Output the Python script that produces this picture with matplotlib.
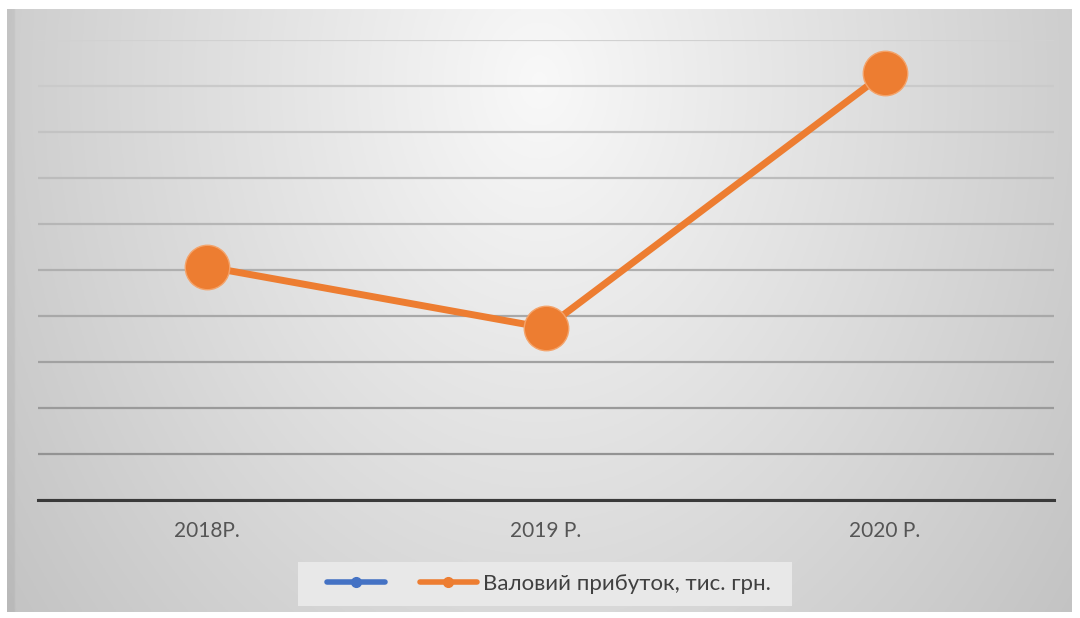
import numpy as np
import matplotlib.pyplot as plt
from matplotlib.lines import Line2D
from matplotlib.patches import Rectangle

# data
years = ["2018Р.", "2019 Р.", "2020 Р."]
profit = [5.07, 3.74, 9.28]
series_name = "Валовий прибуток, тис. грн."

W, H = 1080, 618
fig = plt.figure(figsize=(W / 100, H / 100), dpi=100)
fig.patch.set_facecolor("white")

# chart area background: radial grey gradient
bg = fig.add_axes([7 / W, 1 - 612 / H, (1072 - 7) / W, (612 - 9) / H])
gx, gy = np.meshgrid(np.linspace(0, 1, 400), np.linspace(0, 1, 250))
d = np.sqrt(((gx - 0.5) / 0.6) ** 2 + ((gy - 0.12) / 1.4) ** 2)
shade = 0.975 - 0.2 * np.clip(d, 0, 1.2)
shade[:, :3] -= 0.04  # thin darker strip on the left edge
bg.imshow(np.dstack([shade] * 3), extent=[0, 1, 0, 1], aspect="auto", origin="upper")
bg.axis("off")

ax = fig.add_axes([38 / W, (H - 500) / H, 1016 / W, 460 / H])
ax.patch.set_alpha(0)
x = np.arange(len(years))
ax.plot(x, profit, color="#ED7D31", lw=5, marker="o", ms=32,
        markerfacecolor="#ED7D31", markeredgecolor="#F4A36A", markeredgewidth=1,
        zorder=5, solid_capstyle="round")
ax.set_xlim(-0.5, 2.5)
ax.set_ylim(0, 10)
ax.set_yticks(np.arange(0, 11, 1))
ax.set_yticklabels([])
ax.tick_params(axis="y", length=0)
ax.tick_params(axis="x", length=0, pad=15)
ax.set_xticks(x)
ax.set_xticklabels(years, fontsize=15, color="#555555", family="Lato")
for s in ["top", "right", "left"]:
    ax.spines[s].set_visible(False)
ax.spines["bottom"].set_color("#3a3a3a")
ax.spines["bottom"].set_linewidth(2.2)

ax.grid(axis="y", lw=1.6)
glines = ax.yaxis.get_gridlines()
n = len(glines)
for i, gl in enumerate(glines):
    t = i / (n - 1)
    c = 0.55 + 0.27 * t
    gl.set_color((c, c, c))

# legend box
fig.patches.append(Rectangle((298 / W, 1 - 606 / H), 494 / W, 44 / H,
                             transform=fig.transFigure, facecolor="#e8e8e8",
                             edgecolor="none", zorder=1))
handles = [
    Line2D([], [], color="#4472C4", lw=4, marker="o", ms=7, solid_capstyle="round"),
    Line2D([], [], color="#ED7D31", lw=4, marker="o", ms=7, solid_capstyle="round"),
]
leg = fig.legend(handles, ["", series_name], loc="center",
                 bbox_to_anchor=(549 / W, 1 - 584 / H), ncol=2, frameon=False,
                 handlelength=2.6, handletextpad=0.25, columnspacing=1.3,
                 prop={"family": "Lato", "size": 16})
for t in leg.get_texts():
    t.set_color("#404040")

fig.savefig("out.png", dpi=100)
